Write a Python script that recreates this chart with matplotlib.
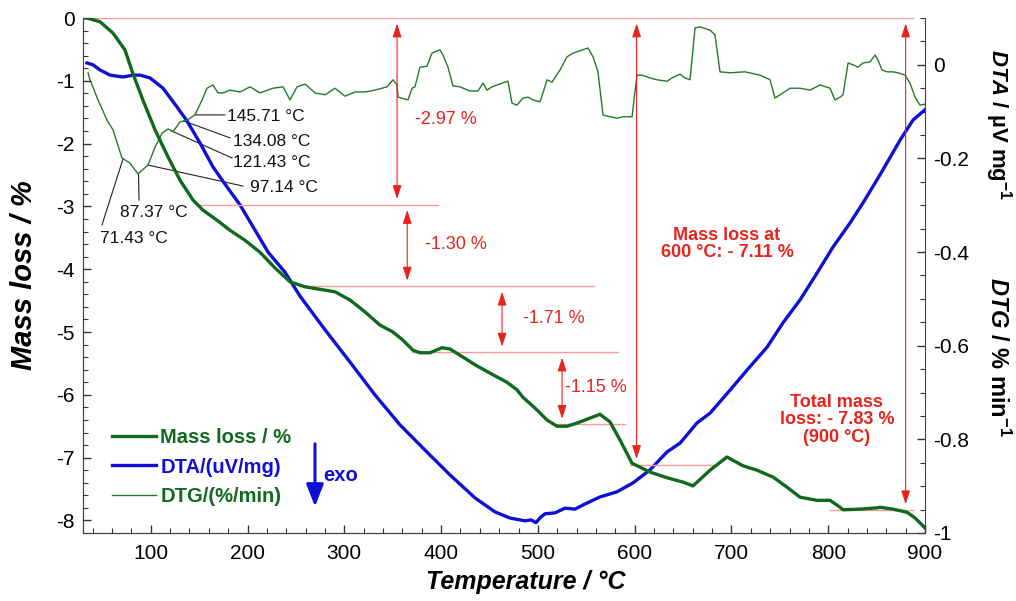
#tga_dta_plot.py

import numpy as np
import matplotlib
matplotlib.use('Agg')
from matplotlib import pyplot as plt
from matplotlib.ticker import MultipleLocator, FuncFormatter
from matplotlib.lines import Line2D

plt.rcParams['font.family'] = ['Liberation Sans', 'DejaVu Sans']
plt.rcParams['axes.unicode_minus'] = False
plt.rcParams['mathtext.fontset'] = 'custom'
plt.rcParams['mathtext.rm'] = 'Liberation Sans:bold'
plt.rcParams['mathtext.it'] = 'Liberation Sans:italic:bold'
plt.rcParams['mathtext.bf'] = 'Liberation Sans:bold'

# mass loss (TG) curve, left axis
mass_T = [30, 34.1, 47.6, 61.0, 73.4, 81.7, 92.0, 104.4, 117.8, 130.2, 143.7, 154.0,
          168.5, 181.9, 197.4, 212.9, 228.4, 243.9, 259.4, 274.9, 290.4, 305.9, 321.4,
          336.9, 350.3, 360.6, 371.0, 378.2, 388.5, 400.9, 409.2, 419.5, 437.1, 453.6,
          468.1, 478.4, 484.6, 497.0, 509.4, 519.8, 530.1, 540.4, 553.9, 564.2, 574.5,
          584.9, 597.3, 615.9, 633.4, 650.0, 660.3, 677.9, 695.4, 712.0, 726.4, 743.0,
          757.4, 770.9, 788.4, 801.9, 812.2, 815.3, 832.8, 850.4, 853.5, 866.9, 881.4,
          889.7, 896.9, 900]
mass = [0, 0, -0.06, -0.24, -0.51, -0.89, -1.31, -1.78, -2.21, -2.58, -2.90, -3.06,
        -3.22, -3.38, -3.54, -3.73, -3.98, -4.20, -4.28, -4.32, -4.36, -4.49, -4.68,
        -4.89, -5.00, -5.13, -5.29, -5.33, -5.33, -5.25, -5.27, -5.37, -5.54, -5.68,
        -5.80, -5.92, -6.04, -6.21, -6.40, -6.50, -6.50, -6.45, -6.37, -6.31, -6.43,
        -6.72, -7.09, -7.23, -7.32, -7.39, -7.45, -7.20, -6.99, -7.13, -7.20, -7.31,
        -7.47, -7.63, -7.68, -7.68, -7.79, -7.83, -7.82, -7.80, -7.79, -7.82, -7.87,
        -7.96, -8.07, -8.12]

# DTA curve, right axis
dta_T = [34.1, 40.3, 47.6, 57.9, 71.3, 81.7, 88.9, 99.2, 112.7, 127.1, 137.5, 150.9,
         164.3, 178.8, 192.2, 205.7, 221.2, 238.7, 254.2, 280.1, 305.9, 331.7, 357.5,
         383.4, 409.2, 435.0, 455.7, 471.2, 486.7, 493.0, 498.0, 503.0, 507.4, 517.7,
         528.0, 538.4, 548.7, 564.2, 581.8, 598.3, 615.9, 633.4, 646.9, 664.4, 677.9,
         698.5, 716.1, 736.8, 753.3, 770.9, 788.4, 805.0, 822.5, 835.9, 853.5, 874.2,
         887.6, 900]
dta = [0.004, 0.0, -0.011, -0.022, -0.026, -0.022, -0.022, -0.028, -0.050, -0.090,
       -0.120, -0.167, -0.218, -0.261, -0.299, -0.346, -0.400, -0.443, -0.494, -0.566,
       -0.635, -0.705, -0.769, -0.823, -0.876, -0.925, -0.955, -0.968, -0.974, -0.972,
       -0.978, -0.966, -0.959, -0.957, -0.947, -0.949, -0.938, -0.923, -0.912, -0.893,
       -0.865, -0.827, -0.808, -0.765, -0.744, -0.695, -0.652, -0.603, -0.551, -0.502,
       -0.445, -0.389, -0.338, -0.295, -0.235, -0.161, -0.118, -0.096]

# DTG curve, right axis
dtg_T = [35.2, 37.2, 45.5, 54.8, 61.0, 70.3, 78.6, 86.8, 97.2, 104.4, 111.6, 117.8,
         123.0, 130.2, 137.5, 145.7, 153.0, 158.1, 164.3, 169.5, 174.7, 181.9, 192.2,
         202.6, 212.9, 226.3, 236.7, 243.9, 251.1, 259.4, 269.7, 280.1, 290.4, 300.7,
         311.0, 321.4, 331.7, 344.1, 350.3, 354.5, 355.5, 365.8, 370.0, 373.0, 378.2,
         385.4, 390.6, 398.9, 402.0, 407.1, 412.3, 419.5, 429.9, 438.1, 443.3, 447.4,
         452.6, 466.0, 469.1, 473.3, 478.4, 484.6, 489.8, 495.0, 502.2, 505.3, 509.4,
         514.6, 522.9, 530.1, 536.3, 543.5, 551.8, 557.0, 562.1, 567.3, 574.5, 581.8,
         588.0, 597.3, 602.4, 607.6, 615.9, 623.1, 633.4, 638.6, 646.9, 652.0, 657.2,
         662.4, 667.5, 677.9, 683.0, 688.2, 698.5, 714.0, 729.5, 739.9, 745.0, 750.2,
         760.5, 770.9, 781.2, 791.5, 801.9, 807.0, 812.2, 815.3, 820.5, 825.6, 830.8,
         836.0, 843.2, 848.4, 851.5, 855.6, 860.8, 867.0, 872.1, 879.3, 884.5, 889.7,
         894.8, 900]
dtg = [-0.017, -0.032, -0.075, -0.118, -0.139, -0.199, -0.210, -0.233, -0.214, -0.176,
       -0.146, -0.137, -0.143, -0.122, -0.118, -0.107, -0.075, -0.050, -0.043, -0.060,
       -0.060, -0.054, -0.058, -0.047, -0.060, -0.050, -0.047, -0.075, -0.047, -0.041,
       -0.060, -0.064, -0.050, -0.067, -0.058, -0.058, -0.054, -0.047, -0.032, -0.043,
       -0.069, -0.075, -0.050, -0.047, -0.005, -0.003, 0.025, 0.032, 0.021, -0.005,
       -0.045, -0.047, -0.056, -0.056, -0.039, -0.054, -0.047, -0.037, -0.035, -0.082,
       -0.086, -0.071, -0.069, -0.075, -0.079, -0.060, -0.032, -0.037, -0.011, 0.017,
       0.025, 0.030, 0.036, 0.017, -0.015, -0.107, -0.111, -0.114, -0.111, -0.111,
       -0.022, -0.022, -0.028, -0.032, -0.035, -0.028, -0.020, -0.028, -0.032, 0.079,
       0.081, 0.074, 0.064, -0.015, -0.017, -0.015, -0.022, -0.032, -0.071, -0.064,
       -0.050, -0.050, -0.054, -0.043, -0.050, -0.075, -0.069, -0.064, 0.004, 0.0,
       -0.005, 0.004, 0.006, 0.021, 0.010, -0.011, -0.015, -0.015, -0.017, -0.022,
       -0.039, -0.069, -0.086, -0.084]

# DTG peak labels (temperature, text position T, text position DTG value, alignment)
peak_T = [145.71, 134.08, 121.43, 97.14, 87.37, 71.43]
peak_text_T = [178.8, 185.0, 185.0, 202.6, 103.4, 47.6]
peak_text_D = [-0.111, -0.163, -0.208, -0.261, -0.316, -0.370]
peak_lead_T = [176.7, 181.9, 184.0, 195.3, 87.9, 49.6]
peak_lead_D = [-0.107, -0.156, -0.199, -0.259, -0.289, -0.342]
peak_ha = ['left', 'left', 'left', 'left', 'center', 'left']

# mass-loss steps: horizontal levels and their extents
step_level = [0, -2.97, -4.27, -5.32, -6.47, -7.11, -7.83]
step_T0 = [34, 151, 254, 370, 518, 595, 802]
step_T1 = [888, 397, 558, 583, 590, 683, 888]
# vertical arrows: temperature, top level, bottom level
arrow_T = [354.5, 365, 463, 525, 602, 880]
arrow_top = [0, -2.97, -4.27, -5.32, 0, 0]
arrow_bot = [-2.97, -4.27, -5.32, -6.47, -7.11, -7.83]
step_labels = ['-2.97 %', '-1.30 %', '-1.71 %', '-1.15 %']
step_label_T = [373, 383.4, 484.6, 528]
step_label_M = [-1.62, -3.61, -4.78, -5.88]

green = '#10691d'
green_thin = '#237a2b'
blue = '#0f0fd8'
red = '#e8231d'
pink = '#ff9a9a'

fig = plt.figure(figsize=(10.16, 6.01), dpi=100)
ax = fig.add_axes([83/1016, 1-533/601, 842/1016, 515/601])
ax2 = ax.twinx()
ax.set_zorder(ax2.get_zorder() + 1)
ax.patch.set_visible(False)

ax2.plot(dta_T, dta, color=blue, lw=2.4, zorder=3)
ax2.plot(dtg_T, dtg, color=green_thin, lw=1.0, zorder=3)
ax.plot(mass_T, mass, color=green, lw=2.4, zorder=4)

# red step lines and arrows
for lev, t0, t1 in zip(step_level, step_T0, step_T1):
    ax.plot([t0, t1], [lev, lev], color=pink, lw=1.0, zorder=2)
for t, top, bot in zip(arrow_T, arrow_top, arrow_bot):
    ax.annotate('', xy=(t, bot), xytext=(t, top),
                arrowprops=dict(arrowstyle='<|-|>,head_length=0.55,head_width=0.18',
                                color=red, lw=0.8, mutation_scale=15,
                                shrinkA=4, shrinkB=4), zorder=2)
for s, t, m in zip(step_labels, step_label_T, step_label_M):
    ax.text(t, m, s, color=red, fontsize=13, ha='left', va='center')
ax.text(695.4, -3.60, 'Mass loss at\n600 \u00b0C: - 7.11 %', color=red, fontsize=13,
        fontweight='bold', ha='center', va='center', linespacing=1.05)
ax.text(809, -6.40, 'Total mass\nloss: - 7.83 %\n(900 \u00b0C)', color=red, fontsize=13,
        fontweight='bold', ha='center', va='center', linespacing=1.05)

# DTG peak labels
for i in range(len(peak_T)):
    d0 = np.interp(peak_T[i], dtg_T, dtg)
    ax2.plot([peak_T[i], peak_lead_T[i]], [d0, peak_lead_D[i]], color='#222222', lw=0.8)
    ax2.text(peak_text_T[i], peak_text_D[i], '%.2f \u00b0C' % peak_T[i], fontsize=12.5,
             ha=peak_ha[i], va='center', color='#111111')

# axes limits and ticks
ax.set_xlim(30, 900)
ax.set_ylim(-8.2, 0)
ax2.set_ylim(-1, 0.1)
ax.xaxis.set_major_locator(MultipleLocator(100))
ax.xaxis.set_minor_locator(MultipleLocator(20))
ax.yaxis.set_major_locator(MultipleLocator(1))
ax.yaxis.set_minor_locator(MultipleLocator(0.2))
ax2.yaxis.set_major_locator(MultipleLocator(0.2))
ax2.yaxis.set_minor_locator(MultipleLocator(0.05))
ax2.yaxis.set_major_formatter(FuncFormatter(lambda v, p: '%g' % round(v, 2) if v < 0.05 else ''))
ax.yaxis.set_major_formatter(FuncFormatter(lambda v, p: '%g' % round(v, 2)))

for a in (ax, ax2):
    a.tick_params(which='both', direction='in', labelsize=15, colors='#333333',
                  labelcolor='black')
    a.tick_params(which='major', length=6, width=1)
    a.tick_params(which='minor', length=3.5, width=0.8)
    a.spines['top'].set_visible(False)
    for sp in a.spines.values():
        sp.set_color('#444444')
ax.spines['right'].set_visible(False)
ax.tick_params(axis='x', pad=8)
ax.tick_params(axis='y', pad=6)
ax2.tick_params(axis='y', pad=6)

ax.set_xlabel('Temperature / \u00b0C', fontsize=18, fontweight='bold', style='italic')
ax.xaxis.set_label_coords(0.526, -0.071)
ax.set_ylabel('Mass loss / %', fontsize=21, fontweight='bold', style='italic')
ax.yaxis.set_label_coords(-0.053, 0.5)
fig.text(998/1016, 1-125/601, '$\\mathit{DTA}$ / \u00b5V mg$^{-1}$',
         fontsize=16, fontweight='bold', rotation=-90, ha='center', va='center')
fig.text(998/1016, 1-357/601, '$\\mathit{DTG}$ / % min$^{-1}$', fontsize=17,
         fontweight='bold', rotation=-90, ha='center', va='center')

# legend
handles = [Line2D([], [], color=green, lw=2.4),
           Line2D([], [], color=blue, lw=2.4),
           Line2D([], [], color=green_thin, lw=1.0)]
leg = ax.legend(handles, ['Mass loss / %', 'DTA/(uV/mg)', 'DTG/(%/min)'],
                loc='upper left', bbox_to_anchor=(0.0344, 0.203), frameon=False,
                borderpad=0, borderaxespad=0, handlelength=2.2, handletextpad=0.2,
                labelspacing=0.5, prop={'size': 14.5, 'weight': 'bold'})
for txt, c in zip(leg.get_texts(), [green, blue, green]):
    txt.set_color(c)

ax.annotate('', xy=(269.7, -7.78), xytext=(269.7, -6.78),
            arrowprops=dict(arrowstyle='-|>,head_length=0.9,head_width=0.35',
                            color=blue, lw=2.2, mutation_scale=15, shrinkA=0, shrinkB=0))
ax.text(278, -7.28, 'exo', color=blue, fontsize=14.5, fontweight='bold',
        ha='left', va='center')

fig.savefig('out.png', dpi=100)
